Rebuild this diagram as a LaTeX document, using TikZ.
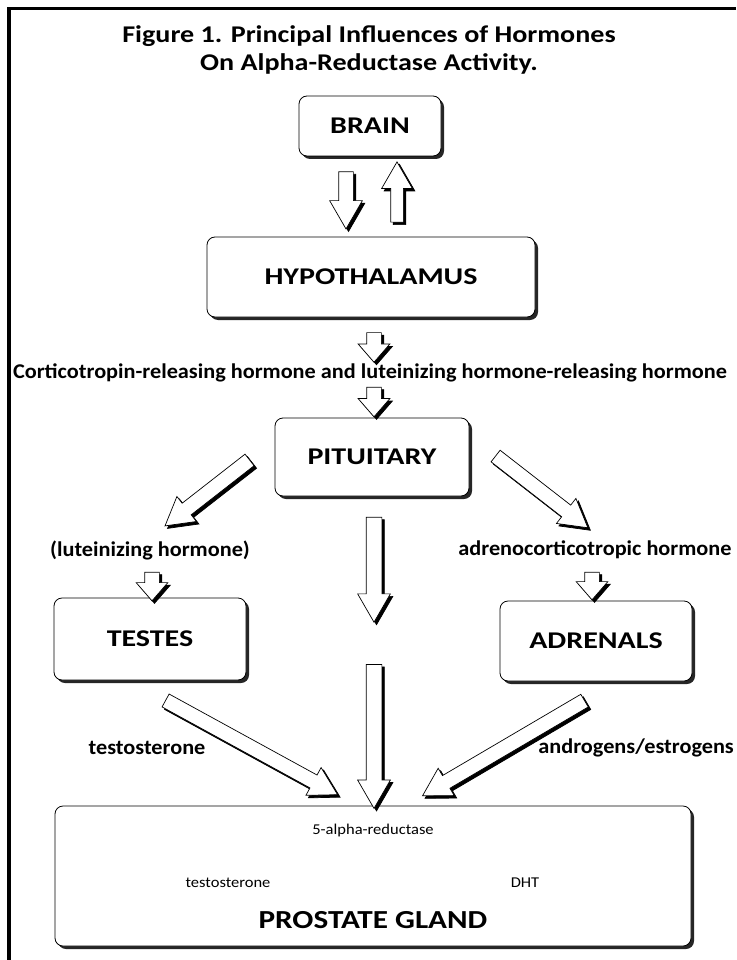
\documentclass[tikz,border=0pt]{standalone}
\usepackage{fontspec}
\setmainfont{Carlito}
\newfontfamily\titleface{Carlito}[FakeStretch=1.17]
\newfontfamily\organface{Carlito}[FakeStretch=1.25]
\newfontfamily\glandface{Carlito}[FakeStretch=1.2]
\newfontfamily\hormoneface{Carlito}[FakeStretch=1.06]
\newfontfamily\smallface{Carlito}[FakeStretch=1.1]
\usetikzlibrary{calc}
\usetikzlibrary{positioning}
\usetikzlibrary{shapes.arrows}
\usetikzlibrary{shadows}
\newcommand{\titlefont}{\titleface\fontsize{24}{28}\selectfont\bfseries}
\newcommand{\organfont}{\organface\fontsize{24}{28}\selectfont\bfseries}
\newcommand{\glandfont}{\glandface\fontsize{26}{30}\selectfont\bfseries}
\newcommand{\hormonefont}{\hormoneface\fontsize{21}{25}\selectfont\bfseries}
\newcommand{\smallfont}{\smallface\fontsize{15}{18}\selectfont}
\tikzset{organ/.style={draw,
                       fill=white,
                       rounded corners=8pt,
                       line width=0.8pt,
                       font=\organfont,
                       drop shadow={shadow xshift=3pt,shadow yshift=-3pt,fill=black!85,opacity=1}}}
\tikzset{hormone/.style={font=\hormonefont,inner sep=0pt}}
\tikzset{block arrow/.style={single arrow,
                             draw,
                             fill=white,
                             line width=0.7pt,
                             inner xsep=0pt,
                             inner ysep=7pt,
                             single arrow head extend=8.5pt,
                             single arrow tip angle=60,
                             sloped,
                             allow upside down,
                             anchor=center}}
\tikzset{short arrow/.style={single arrow tip angle=82}}
% #1 extra style, #2 name, #3 tail, #4 tip
\newcommand{\fatarrow}[4][]{%
  \path let \p1=($(#4)-(#3)$), \n1={veclen(\x1,\y1)} in
    ([shift={(2.5,2.5)}]#3) -- node [block arrow,#1,fill=black,minimum height=\n1] (#2-s) {} ([shift={(2.5,2.5)}]#4)
    (#3) -- node [block arrow,#1,minimum height=\n1] (#2) {} (#4);}
\begin{document}
\begin{tikzpicture}[x=1pt,y=-1pt]
      \useasboundingbox (0,0) rectangle (736,960);
      \draw [line width=3.5pt] (9,960) -- (9,8.5) -- (736,8.5);

      % title
      \node [font=\titlefont,anchor=base] (title1) at (369,43) {Figure 1. Principal Influences of Hormones};
      \node [font=\titlefont,anchor=base] (title2) at (369,71) {On Alpha-Reductase Activity.};

      % organs
      \node [organ,minimum width=142pt,minimum height=60pt] (brain) at (370,126) {BRAIN};
      \node [organ,minimum width=328pt,minimum height=80pt] (hyp) at (371,277) {HYPOTHALAMUS};
      \node [organ,minimum width=194pt,minimum height=78pt] (pit) at (372,457) {PITUITARY};
      \node [organ,minimum width=192pt,minimum height=82pt] (testes) at (150,639) {TESTES};
      \node [organ,minimum width=192pt,minimum height=80pt] (adrenals) at (596,641) {ADRENALS};
      \node [organ,minimum width=636pt,minimum height=140pt] (prostate) at (373,876) {};

      % hormones
      \node [hormone] (crh) at (370,373)
      {Corticotropin-releasing hormone and luteinizing hormone-releasing hormone};
      \node [hormone] (lh) at (150,550) {(luteinizing hormone)};
      \node [hormone] (acth) at (595,550) {adrenocorticotropic hormone};
      \node [hormone] (testo) at (147,748) {testosterone};
      \node [hormone,anchor=east] (andro) at (734,748) {androgens/estrogens};

      % inside the prostate
      \node [font=\smallfont] (reductase) at (373,830) {5-alpha-reductase};
      \node [font=\smallfont] (testoin) at (228,883) {testosterone};
      \node [font=\smallfont] (dht) at (525,883) {DHT};
      \node [font=\glandfont] (gland) at (373,920) {PROSTATE GLAND};

      % arrow ends
      \coordinate (a1t) at ($(brain.south)+(-24,9)$);
      \coordinate (a1h) at ($(hyp.north)+(-25,-14)$);
      \coordinate (a2t) at ($(hyp.north)+(26,-9)$);
      \coordinate (a2h) at ($(brain.south)+(27,11)$);
      \coordinate (a3t) at ($(hyp.south)+(3,11)$);
      \coordinate (a3h) at ($(crh.center)+(4,-15)$);
      \coordinate (a4t) at ($(crh.center)+(4,10)$);
      \coordinate (a4h) at ($(pit.north)+(2,-5)$);
      \coordinate (a5t) at ($(pit.west)+(-20,-1)$);
      \coordinate (a5h) at ($(lh.center)+(20,-28)$);
      \coordinate (a6t) at ($(pit.east)+(21,-5)$);
      \coordinate (a6h) at ($(acth.center)+(-12,-26)$);
      \coordinate (a7t) at ($(pit.south)+(2,14)$);
      \coordinate (a7h) at ($(pit.south)+(2,119)$);
      \coordinate (a8t) at ($(lh.center)+(2,18)$);
      \coordinate (a8h) at ($(testes.north)+(2,-1)$);
      \coordinate (a9t) at ($(acth.center)+(-3,18)$);
      \coordinate (a9h) at ($(adrenals.north)+(-4,-5)$);
      \coordinate (a10t) at ($(testes.south)+(10,17)$);
      \coordinate (a10h) at ($(prostate.north)+(-41,-14)$);
      \coordinate (a11t) at ($(prostate.north)+(1,-148)$);
      \coordinate (a11h) at ($(prostate.north)+(1,-4)$);
      \coordinate (a12t) at ($(adrenals.south)+(-6,16)$);
      \coordinate (a12h) at ($(prostate.north)+(55,-13)$);

      % arrows
      \fatarrow[single arrow head extend=9pt]{a1}{a1t}{a1h}
      \fatarrow[inner ysep=6pt,single arrow head extend=9pt]{a2}{a2t}{a2h}
      \fatarrow[short arrow]{a3}{a3t}{a3h}
      \fatarrow[short arrow]{a4}{a4t}{a4h}
      \fatarrow{a5}{a5t}{a5h}
      \fatarrow{a6}{a6t}{a6h}
      \fatarrow[inner ysep=7.5pt]{a7}{a7t}{a7h}
      \fatarrow[short arrow]{a8}{a8t}{a8h}
      \fatarrow[short arrow]{a9}{a9t}{a9h}
      \fatarrow{a10}{a10t}{a10h}
      \fatarrow[inner ysep=7.5pt]{a11}{a11t}{a11h}
      \fatarrow{a12}{a12t}{a12h}

    \end{tikzpicture}
\end{document}
